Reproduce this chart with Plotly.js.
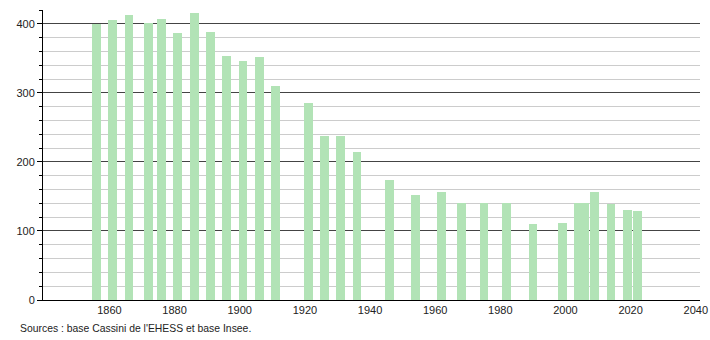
<!DOCTYPE html>
<html>
<head>
<meta charset="utf-8">
<script src="https://cdn.plot.ly/plotly-3.0.1.min.js"></script>
<style>html,body{margin:0;padding:0;background:#fff;}#chart{width:710px;height:340px;}</style>
</head>
<body>
<div id="chart"></div>
<script>
const years = [1856,1861,1866,1872,1876,1881,1886,1891,1896,1901,1906,1911,1921,1926,1931,1936,1946,1954,1962,1968,1975,1982,1990,1999,2004,2006,2009,2014,2019,2022];
const population = [400,406,413,401,407,386,416,388,354,346,352,310,285,238,238,215,174,152,156,141,141,141,110,112,140,140,156,139,130,129];
const xTicks = [1860,1880,1900,1920,1940,1960,1980,2000,2020,2040];
const yTicks = [0,100,200,300,400];
const sourceText = "Sources : base Cassini de l'EHESS et base Insee.";

const trace = {
  type: 'bar',
  x: years,
  y: population,
  width: 2.7,
  marker: {color: '#b2e3b6', line: {width: 0}},
  hoverinfo: 'x+y'
};

const layout = {
  width: 710, height: 340,
  margin: {l: 43, r: 10, t: 10, b: 40},
  paper_bgcolor: '#fff', plot_bgcolor: '#fff',
  showlegend: false,
  font: {family: 'Liberation Sans, Arial, sans-serif', size: 11, color: '#222'},
  xaxis: {
    range: [1839.6, 2041.3],
    tickvals: xTicks,
    ticktext: xTicks.map(String),
    showgrid: false, zeroline: false,
    showline: true, linecolor: '#000', linewidth: 1,
    ticks: '', tickfont: {size: 11, color: '#222'}
  },
  yaxis: {
    range: [0, 420],
    tickvals: yTicks,
    ticktext: yTicks.map(String),
    showgrid: true, gridcolor: '#444', gridwidth: 1,
    zeroline: false,
    showline: true, linecolor: '#000', linewidth: 1,
    ticks: 'outside', ticklen: 5, tickcolor: '#000',
    tickfont: {size: 11, color: '#222'},
    minor: {dtick: 20, ticks: 'outside', ticklen: 3, tickcolor: '#000', showgrid: true, gridcolor: '#cccccc', gridwidth: 1}
  },
  bargap: 0,
  annotations: [{
    text: sourceText, xref: 'paper', yref: 'paper',
    x: -0.038, y: -0.072, xanchor: 'left', yanchor: 'top',
    showarrow: false, font: {size: 10.4, color: '#222'}
  }]
};

Plotly.newPlot('chart', [trace], layout, {displayModeBar: false, staticPlot: true});
</script>
</body>
</html>
